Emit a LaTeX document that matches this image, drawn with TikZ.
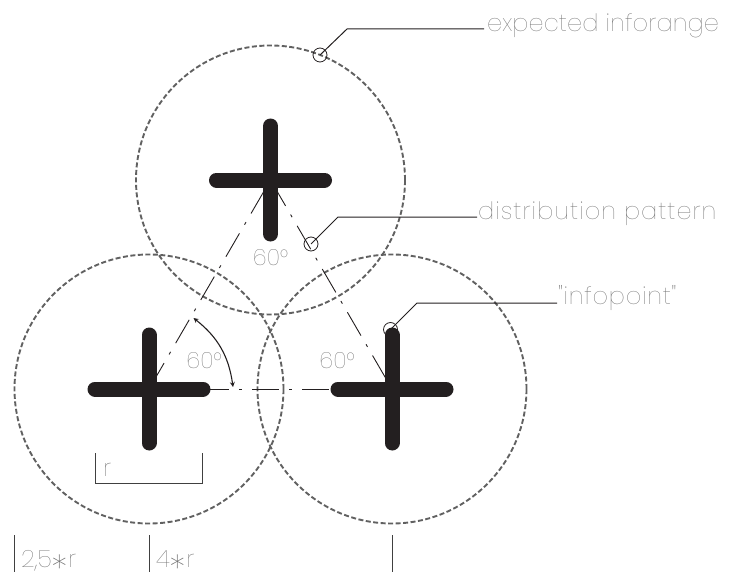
\documentclass[tikz,border=0pt]{standalone}
\usepackage{fontspec}
\newfontfamily\lab{Poppins Thin}
\usetikzlibrary{arrows.meta}
\definecolor{lbl}{gray}{0.42}
\definecolor{ink}{HTML}{231F20}
\newcommand{\starsign}{\raisebox{-15pt}{\fontsize{38}{38}\selectfont *}}
\tikzset{
  x=1pt,y=-1pt,
  rangecirc/.style={circle,draw=black!62,line width=1.9pt,dash pattern=on 5pt off 2.5pt,minimum size=269pt,inner sep=0pt},
  crossbar/.style={draw=ink,line width=15pt,line cap=round},
  axisline/.style={draw=ink,line width=0.9pt,dash pattern=on 27pt off 10pt on 3pt off 10pt,dash phase=47pt},
  leader/.style={draw=ink,line width=1pt},
  markcirc/.style={circle,draw=ink,line width=0.8pt,minimum size=14pt,inner sep=0pt},
  dimline/.style={draw=black!75,line width=0.9pt},
  textlab/.style={text=lbl,inner sep=0pt,font=\lab\fontsize{24}{24}\selectfont,anchor=base west},
  anglelab/.style={text=lbl,inner sep=0pt,font=\lab\fontsize{22.5}{22.5}\selectfont,anchor=base},
}
\begin{document}
\begin{tikzpicture}
\useasboundingbox (0,0) rectangle (735,572);
\coordinate (T) at (270.5,180);
\coordinate (L) at (149,389);
\coordinate (R) at (392,389);
% ranges
\node[rangecirc] (rt) at (T) {};
\node[rangecirc] (rl) at (L) {};
\node[rangecirc] (rr) at (R) {};
% triangle
\draw[axisline] (L) -- (T);
\draw[axisline] (L) -- (R);
\draw[axisline] (T) -- (R);
% crosses
\foreach \c in {T,L,R}{
  \draw[crossbar] ([xshift=-54pt]\c) -- ([xshift=54pt]\c);
  \draw[crossbar] ([yshift=-54pt]\c) -- ([yshift=54pt]\c);
}
% angle arc
\coordinate (A1) at (193.5,318);
\coordinate (A2) at (233,387);
\draw[ink,line width=1.1pt,{Stealth[length=5pt,width=5pt,open]}-{Stealth[length=5pt,width=5pt,open]}] (A1) to[bend left=22] (A2);
% labels of angles
\node[anglelab] (a1) at (270.5,265) {60°};
\node[anglelab] (a2) at (204,368) {60°};
\node[anglelab] (a3) at (337,368) {60°};
% leaders
\node[markcirc] (m1) at (320,55) {};
\coordinate (k1) at (347,29);
\node[textlab] (t1) at (487,32) {\addfontfeature{LetterSpace=0.4}expected inforange};
\draw[leader] (m1.center) -- (k1) -- (484,29);
\node[markcirc] (m2) at (311,244) {};
\coordinate (k2) at (338,217);
\node[textlab] (t2) at (478,219) {\addfontfeature{LetterSpace=4.2}distribution pattern};
\draw[leader] (m2.center) -- (k2) -- (477,217);
\node[markcirc] (m3) at (390.5,329.5) {};
\coordinate (k3) at (417,303);
\node[textlab] (t3) at (558,304) {\addfontfeature{LetterSpace=3}"infopoint"};
\draw[leader] (m3.center) -- (k3) -- (557,303);
% dimensions
\coordinate (d1) at (95,453);
\coordinate (d2) at (95,483);
\coordinate (d3) at (202,483);
\coordinate (d4) at (202,453);
\draw[dimline] (d1) -- (d2) -- (d3) -- (d4);
\node[textlab] (tr) at (103,476) {r};
\coordinate (b1) at (14,535);
\coordinate (b2) at (14,572);
\coordinate (b3) at (149,535);
\coordinate (b4) at (149,572);
\coordinate (b5) at (392,535);
\coordinate (b6) at (392,572);
\draw[dimline] (b1) -- (b2);
\draw[dimline] (b3) -- (b4);
\draw[dimline] (b5) -- (b6);
\node[textlab] (t25) at (21,567) {2,5\starsign r};
\node[textlab] (t4) at (156,567) {4\starsign r};
\end{tikzpicture}
\end{document}
